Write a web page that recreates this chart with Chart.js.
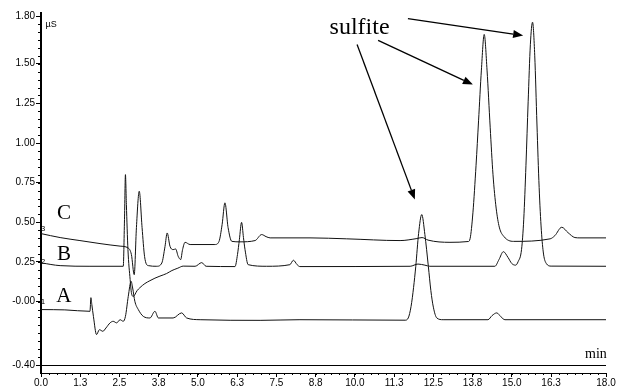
<!DOCTYPE html>
<html lang="en">
<head>
<meta charset="UTF-8">
<title>Sulfite chromatograms A, B, C</title>
<script src="https://cdn.jsdelivr.net/npm/chart.js"></script>
<style>
  html, body { margin: 0; padding: 0; background: #fff; }
</style>
</head>
<body>
<canvas id="chrom" width="620" height="387"></canvas>
<script>
// retention time (min) / conductivity (µS)
const aTime = [0.02, 0.76, 1.56, 1.59, 1.62, 1.67, 1.77, 1.86, 1.97, 2.07, 2.20, 2.30, 2.41, 2.52, 2.62, 2.69, 2.78, 2.87, 2.92, 2.99,
  3.10, 3.26, 3.47, 3.63, 3.74, 4.21, 4.48, 4.64, 5.07, 6.98, 8.25, 11.60, 11.70, 11.79, 11.87, 11.94, 12.03, 12.13, 12.23, 12.34,
  12.42, 12.50, 12.61, 12.81, 14.24, 14.37, 14.52, 14.65, 14.78, 18.0];
const aSignal = [-0.050, -0.052, -0.061, 0.025, -0.019, -0.093, -0.208, -0.177, -0.187, -0.166, -0.134, -0.124, -0.134, -0.114, -0.124, -0.093, 0.033, 0.128, 0.086, 0.002,
  -0.050, -0.093, -0.103, -0.061, -0.103, -0.103, -0.071, -0.103, -0.114, -0.118, -0.114, -0.117, -0.103, -0.030, 0.090, 0.223, 0.430, 0.549, 0.423, 0.223,
  0.070, -0.035, -0.103, -0.114, -0.114, -0.088, -0.071, -0.095, -0.114, -0.114];

const bTime = [0.02, 0.61, 1.56, 2.62, 2.66, 2.69, 2.72, 2.77, 2.84, 2.88, 2.94, 3.06, 3.15, 3.31, 3.47, 3.63, 3.79, 4.00, 4.17, 4.36,
  4.53, 4.91, 5.12, 5.26, 6.18, 6.26, 6.32, 6.39, 6.45, 6.50, 6.60, 7.19, 7.93, 8.04, 8.16, 8.25, 11.76, 12.01, 12.23, 12.39,
  14.46, 14.59, 14.73, 14.88, 15.00, 15.12, 15.20, 15.31, 15.38, 15.45, 15.52, 15.59, 15.66, 15.73, 15.80, 15.87, 15.94, 16.01, 16.10, 16.25, 18.0];
const bSignal = [0.244, 0.227, 0.223, 0.223, 0.517, 0.801, 0.612, 0.328, 0.139, 0.057, 0.033, 0.069, 0.088, 0.114, 0.132, 0.148, 0.161, 0.177, 0.196, 0.211,
  0.224, 0.223, 0.246, 0.223, 0.221, 0.297, 0.391, 0.500, 0.404, 0.328, 0.233, 0.223, 0.233, 0.261, 0.233, 0.221, 0.223, 0.237, 0.230, 0.223,
  0.223, 0.265, 0.315, 0.278, 0.240, 0.230, 0.252, 0.330, 0.520, 0.860, 1.260, 1.620, 1.762, 1.550, 1.120, 0.720, 0.450, 0.300, 0.240, 0.224, 0.223];

const cTime = [0.00, 0.61, 1.24, 1.88, 2.52, 2.77, 2.88, 2.97, 3.04, 3.13, 3.22, 3.30, 3.42, 3.69, 3.85, 3.95, 4.02, 4.11, 4.21, 4.29,
  4.37, 4.45, 4.51, 4.59, 4.75, 5.54, 5.67, 5.77, 5.86, 5.96, 6.08, 6.34, 6.82, 7.03, 7.17, 7.30, 8.57, 9.74, 11.44, 11.95,
  12.14, 12.33, 13.03, 13.61, 13.67, 13.76, 13.86, 13.94, 14.03, 14.12, 14.21, 14.31, 14.40, 14.50, 14.60, 14.75, 15.05, 16.22, 16.37, 16.59,
  16.79, 17.01, 17.17, 18.0];
const cSignal = [0.429, 0.404, 0.385, 0.366, 0.350, 0.339, 0.297, 0.170, 0.467, 0.696, 0.467, 0.284, 0.227, 0.223, 0.244, 0.347, 0.433, 0.349, 0.328, 0.332,
  0.286, 0.265, 0.328, 0.374, 0.360, 0.360, 0.379, 0.486, 0.623, 0.467, 0.380, 0.377, 0.385, 0.423, 0.410, 0.402, 0.402, 0.396, 0.385, 0.397,
  0.404, 0.388, 0.374, 0.379, 0.397, 0.560, 0.860, 1.140, 1.460, 1.685, 1.460, 1.100, 0.800, 0.590, 0.470, 0.410, 0.380, 0.396, 0.416, 0.469,
  0.435, 0.404, 0.402, 0.402];

const xTicks = [0, 1.25, 2.5, 3.75, 5, 6.25, 7.5, 8.75, 10, 11.25, 12.5, 13.75, 15, 16.25, 18];
const xTickLabels = ['0.0', '1.3', '2.5', '3.8', '5.0', '6.3', '7.5', '8.8', '10.0', '11.3', '12.5', '13.8', '15.0', '16.3', '18.0'];
const yTicks = [-0.4, 0, 0.25, 0.5, 0.75, 1, 1.25, 1.5, 1.8];
const yTickLabels = ['-0.40', '-0.00', '0.25', '0.50', '0.75', '1.00', '1.25', '1.50', '1.80'];

// text and arrows placed in data units (min, µS)
const notes = [
  { text: 'C', x: 0.73, y: 0.555, font: '21px "Liberation Serif"' },
  { text: 'B', x: 0.73, y: 0.295, font: '21px "Liberation Serif"' },
  { text: 'A', x: 0.73, y: 0.035, font: '21px "Liberation Serif"' },
  { text: '3', x: 0.06, y: 0.46, font: '8px "Liberation Sans"' },
  { text: '2', x: 0.06, y: 0.25, font: '8px "Liberation Sans"' },
  { text: '1', x: 0.06, y: 0.0, font: '8px "Liberation Sans"' },
  { text: 'µS', x: 0.32, y: 1.75, font: '9px "Liberation Sans"' },
  { text: 'min', x: 17.68, y: -0.33, font: '14px "Liberation Serif"' },
  { text: 'sulfite', x: 10.15, y: 1.73, font: '24px "Liberation Serif"' }
];
const arrows = [
  [10.07, 1.621, 11.91, 0.644],
  [10.74, 1.647, 13.76, 1.369],
  [11.69, 1.785, 15.36, 1.678]
];

const trace = (label, ts, vs) => ({
  label,
  data: ts.map((t, i) => ({ x: t, y: vs[i] })),
  borderColor: '#111',
  borderWidth: 1,
  pointRadius: 0,
  cubicInterpolationMode: 'monotone',
  fill: false
});

// small unlabelled ticks on both axes
const minorTicks = {
  id: 'minorTicks',
  afterDraw(chart) {
    const { ctx, chartArea } = chart;
    const x = chart.scales.x, y = chart.scales.y;
    ctx.save();
    ctx.strokeStyle = '#000';
    ctx.lineWidth = 1;
    ctx.beginPath();
    for (let i = 0; i * 0.25 <= x.max + 1e-9; i++) {
      const px = Math.round(x.getPixelForValue(i * 0.25)) + 0.5;
      ctx.moveTo(px, chartArea.bottom);
      ctx.lineTo(px, chartArea.bottom + 2);
    }
    for (let i = -8; i * 0.05 <= y.max + 1e-9; i++) {
      const py = Math.round(y.getPixelForValue(i * 0.05)) + 0.5;
      ctx.moveTo(chartArea.left - 3, py);
      ctx.lineTo(chartArea.left, py);
    }
    ctx.stroke();
    ctx.restore();
  }
};

const annotations = {
  id: 'annotations',
  afterDraw(chart) {
    const { ctx } = chart;
    const x = chart.scales.x, y = chart.scales.y;
    ctx.save();
    ctx.fillStyle = '#000';
    ctx.textAlign = 'center';
    ctx.textBaseline = 'middle';
    notes.forEach(n => {
      ctx.font = n.font;
      ctx.fillText(n.text, x.getPixelForValue(n.x), y.getPixelForValue(n.y));
    });
    ctx.strokeStyle = '#000';
    ctx.lineWidth = 1.3;
    arrows.forEach(a => {
      const x0 = x.getPixelForValue(a[0]), y0 = y.getPixelForValue(a[1]);
      const x1 = x.getPixelForValue(a[2]), y1 = y.getPixelForValue(a[3]);
      const ang = Math.atan2(y1 - y0, x1 - x0);
      const len = 10, half = 4;
      const bx = x1 - len * Math.cos(ang), by = y1 - len * Math.sin(ang);
      ctx.beginPath();
      ctx.moveTo(x0, y0);
      ctx.lineTo(bx, by);
      ctx.stroke();
      ctx.beginPath();
      ctx.moveTo(x1, y1);
      ctx.lineTo(bx + half * Math.sin(ang), by - half * Math.cos(ang));
      ctx.lineTo(bx - half * Math.sin(ang), by + half * Math.cos(ang));
      ctx.closePath();
      ctx.fill();
    });
    ctx.restore();
  }
};

new Chart(document.getElementById('chrom'), {
  type: 'line',
  data: {
    datasets: [
      trace('A', aTime, aSignal),
      trace('B', bTime, bSignal),
      trace('C', cTime, cSignal)
    ]
  },
  options: {
    responsive: false,
    animation: false,
    devicePixelRatio: 1,
    layout: { padding: { top: 13, right: 14, left: 0, bottom: 0 } },
    plugins: { legend: { display: false }, tooltip: { enabled: false } },
    scales: {
      x: {
        type: 'linear',
        min: 0,
        max: 18,
        afterBuildTicks: s => { s.ticks = xTicks.map(v => ({ value: v })); },
        afterFit: s => { s.height = 14; },
        ticks: {
          callback: v => xTickLabels[xTicks.indexOf(v)],
          font: { family: 'Liberation Sans', size: 10 },
          color: '#000',
          maxRotation: 0,
          autoSkip: false,
          padding: 0
        },
        grid: { drawOnChartArea: false, tickLength: 4, tickColor: '#000' },
        border: { color: '#000', width: 1 }
      },
      y: {
        min: -0.45,
        max: 1.82,
        afterBuildTicks: s => { s.ticks = yTicks.map(v => ({ value: v })); },
        afterFit: s => { s.width = 41; },
        ticks: {
          callback: v => yTickLabels[yTicks.indexOf(v)],
          font: { family: 'Liberation Sans', size: 10 },
          color: '#000',
          padding: 1
        },
        grid: {
          color: c => (c.tick && c.tick.value === -0.4 ? '#000' : 'rgba(0,0,0,0)'),
          tickColor: '#000',
          tickLength: 5
        },
        border: { color: '#000', width: 2 }
      }
    }
  },
  plugins: [minorTicks, annotations]
});
</script>
</body>
</html>
